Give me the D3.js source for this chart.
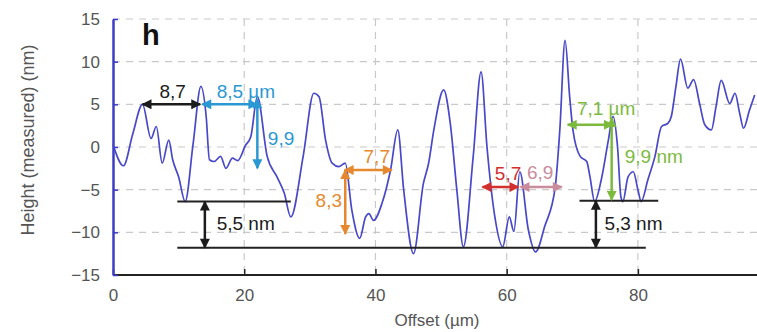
<!DOCTYPE html>
<html>
<head>
<meta charset="utf-8">
<script src="https://cdn.jsdelivr.net/npm/d3@7"></script>
<style>
  body { margin: 0; background: #fff; }
  svg { display: block; font-family: "Liberation Sans", Arial, sans-serif; }
</style>
</head>
<body>
<svg id="chart" width="757" height="332"></svg>
<script>
// profile
const offsets = [0, 1.6, 3, 4.5, 5.8, 6.6, 7.5, 8.5, 9.1, 10, 11.0, 12.2, 13.4, 14.2, 14.7, 15.4, 16.4, 17.2, 18.2, 19,
  20.2, 21.0, 22.0, 23.5, 25.0, 26.1, 27.1, 29, 30.6, 31.4, 32.4, 33.4, 34.4, 35.4, 36.4, 37.6, 38.5, 39.0, 39.7,
  41.0, 42.3, 43.4, 44.3, 45.8, 47.3, 48.1, 48.9, 50.4, 51.4, 52.4, 53.4, 54.9, 56.1, 57.0, 58.2, 59.4, 60.4, 61.1,
  62.0, 63.3, 64.4, 65.8, 67.4, 68.1, 68.9, 69.6, 70.1, 71.2, 72.2, 72.7, 73.4, 74.4, 75.5, 76.2, 76.9, 77.4, 77.7,
  78.5, 79.3, 80.0, 80.5, 81.5, 82.6, 83.6, 84.6, 85.1, 85.8, 86.5, 87.6, 88.5, 89.4, 90.2, 91.2, 91.9, 92.7, 94.0,
  94.8, 95.5, 96.1, 97.0, 97.8];
const heights = [0.3, -2.2, 1.5, 5.0, 1.0, 2.4, -1.9, 0.8, -1.5, -3.5, -6.4, 0.3, 7.1, 3.6, -1.5, -1.7, -1.1, -2.5, -1.3, -1.6,
  0.2, 1.2, 5.9, -1.1, -3.5, -5.4, -8.2, -1.0, 6.3, 5.9, 0.8, -1.9, -2.3, -1.9, -7.4, -10.7, -8.2, -7.8, -8.6,
  -6.6, -2.7, 2.0, -5.0, -12.5, -4.3, -1.9, 2.0, 6.7, 2.8, -5.0, -11.7, -1.1, 8.8, 0.0, -8.2, -11.7, -8.2, -9.9,
  -2.9, -9.7, -12.3, -9.3, -4.7, 2.0, 12.5, 5.9, 2.0, -1.1, -1.7, -3.5, -6.4, -3.9, 0.8, 3.6, 0.0, -5.8, -6.4,
  -3.5, -2.9, -5.0, -6.4, -3.9, -1.1, 2.4, 2.8, 3.6, 7.1, 10.3, 6.9, 7.9, 5.1, 2.6, 2.0, 4.7, 7.8, 5.1,
  6.3, 4.0, 2.2, 4.3, 6.1];

const yTicks = [-15, -10, -5, 0, 5, 10, 15];
const xTicks = [0, 20, 40, 60, 80];

// measurement arrows: [x1, y1, x2, y2, colour key]
const arrows = [
  [4.5, 5, 13.3, 5, 'black'],
  [13.6, 5, 22.0, 5, 'cyan'],
  [22.0, 5.6, 22.0, -2.5, 'cyan'],
  [14.0, -6.4, 14.0, -11.8, 'black'],
  [35.3, -2.7, 42.5, -2.7, 'orange'],
  [35.4, -2.7, 35.4, -10.2, 'orange'],
  [56.3, -4.7, 61.8, -4.7, 'red'],
  [62.1, -4.7, 68.4, -4.7, 'pink'],
  [69.3, 2.6, 76.2, 2.6, 'green'],
  [76.0, 3.4, 76.0, -6.2, 'green'],
  [73.6, -6.3, 73.6, -11.8, 'black']
];
// reference levels: [x1, x2, y]
const levels = [
  [9.8, 27.1, -6.4],
  [9.8, 81.2, -11.8],
  [71.1, 83.1, -6.3]
];
// labels: [text, x, y, anchor, colour key]
const labels = [
  ['8,7', 9.1, 5.75, 'middle', 'black'],
  ['8,5 µm', 15.8, 5.75, 'start', 'cyan'],
  ['9,9', 23.6, 0.25, 'start', 'cyan'],
  ['5,5 nm', 15.8, -9.7, 'start', 'black'],
  ['7,7', 40.2, -1.9, 'middle', 'orange'],
  ['8,3', 34.9, -7.0, 'end', 'orange'],
  ['5,7', 58.2, -3.9, 'start', 'red'],
  ['6,9', 63.1, -3.7, 'start', 'pink'],
  ['7,1 µm', 70.7, 3.75, 'start', 'green'],
  ['9,9 nm', 78.0, -1.9, 'start', 'green'],
  ['5,3 nm', 74.9, -9.7, 'start', 'black']
];

const colors = {
  black: '#1c1c1c', cyan: '#2a98d2', orange: '#e6892e',
  red: '#d2302e', pink: '#c98c9c', green: '#7cba3e'
};

const svg = d3.select('#chart');
const x = d3.scaleLinear().domain([0, 98]).range([113, 756]);
const y = d3.scaleLinear().domain([-15, 15]).range([275, 19]);

// arrow heads
const defs = svg.append('defs');
Object.keys(colors).forEach(k => {
  defs.append('marker')
    .attr('id', 'head-' + k)
    .attr('viewBox', '0 0 10 10')
    .attr('refX', 9).attr('refY', 5)
    .attr('markerWidth', 12).attr('markerHeight', 10)
    .attr('markerUnits', 'userSpaceOnUse')
    .attr('orient', 'auto-start-reverse')
    .append('path')
    .attr('d', 'M0,0 L10,5 L0,10 z')
    .attr('fill', colors[k]);
});

// grid
const grid = svg.append('g').attr('stroke', '#c9c9c9').attr('stroke-width', 1.2).attr('stroke-dasharray', '7,6');
grid.selectAll('.gy').data(yTicks.filter(d => d > -15)).enter().append('line')
  .attr('x1', x(0)).attr('x2', 757).attr('y1', d => y(d)).attr('y2', d => y(d));
grid.selectAll('.gx').data(xTicks.filter(d => d > 0)).enter().append('line')
  .attr('x1', d => x(d)).attr('x2', d => x(d)).attr('y1', y(15)).attr('y2', y(-15));

// axes
const xAxis = svg.append('g')
  .attr('transform', `translate(0,${y(-15)})`)
  .call(d3.axisBottom(x).tickValues(xTicks).tickSize(-6).tickPadding(14).tickSizeOuter(0));
xAxis.select('.domain').attr('stroke', '#222').attr('stroke-width', 2).attr('d', `M${x(0)},0H757`);
xAxis.selectAll('.tick line').attr('stroke', '#222').attr('stroke-width', 1.5);
xAxis.selectAll('.tick text').attr('fill', '#555').style('font-size', '17px');

const yAxis = svg.append('g')
  .attr('transform', `translate(${x(0)},0)`)
  .call(d3.axisLeft(y).tickValues(yTicks).tickSize(-5).tickPadding(13).tickSizeOuter(0));
yAxis.select('.domain').attr('stroke', '#3c3cc4').attr('stroke-width', 2.5);
yAxis.selectAll('.tick line').attr('stroke', '#3c3cc4').attr('stroke-width', 1.5);
yAxis.selectAll('.tick text').attr('fill', '#555').style('font-size', '17px');

// axis titles
svg.append('text')
  .attr('x', 437).attr('y', 326)
  .attr('text-anchor', 'middle')
  .attr('fill', '#555').style('font-size', '17px')
  .text('Offset (µm)');
svg.append('text')
  .attr('transform', 'translate(34,140) rotate(-90)')
  .attr('text-anchor', 'middle')
  .attr('fill', '#555').style('font-size', '18px')
  .text('Height (measured) (nm)');

// profile
const profile = offsets.map((o, i) => ({ o, h: heights[i] }));
const line = d3.line().x(d => x(d.o)).y(d => y(d.h)).curve(d3.curveMonotoneX);
svg.append('path')
  .datum(profile)
  .attr('d', line)
  .attr('fill', 'none')
  .attr('stroke', '#4848c8')
  .attr('stroke-width', 1.7)
  .attr('stroke-linejoin', 'round');

// reference levels
svg.selectAll('.level').data(levels).enter().append('line')
  .attr('x1', d => x(d[0])).attr('x2', d => x(d[1]))
  .attr('y1', d => y(d[2])).attr('y2', d => y(d[2]))
  .attr('stroke', '#222').attr('stroke-width', 2);

// arrows
svg.selectAll('.arrow').data(arrows).enter().append('line')
  .attr('x1', d => x(d[0])).attr('y1', d => y(d[1]))
  .attr('x2', d => x(d[2])).attr('y2', d => y(d[3]))
  .attr('stroke', d => colors[d[4]])
  .attr('stroke-width', 2.5)
  .attr('marker-start', d => `url(#head-${d[4]})`)
  .attr('marker-end', d => `url(#head-${d[4]})`);

// labels
svg.selectAll('.lab').data(labels).enter().append('text')
  .attr('x', d => x(d[1])).attr('y', d => y(d[2]))
  .attr('text-anchor', d => d[3])
  .attr('fill', d => colors[d[4]])
  .style('font-size', '19px')
  .text(d => d[0]);

// panel letter
svg.append('text')
  .attr('x', 142).attr('y', 45)
  .attr('fill', '#111')
  .style('font-size', '29px').style('font-weight', 'bold')
  .text('h');
</script>
</body>
</html>
